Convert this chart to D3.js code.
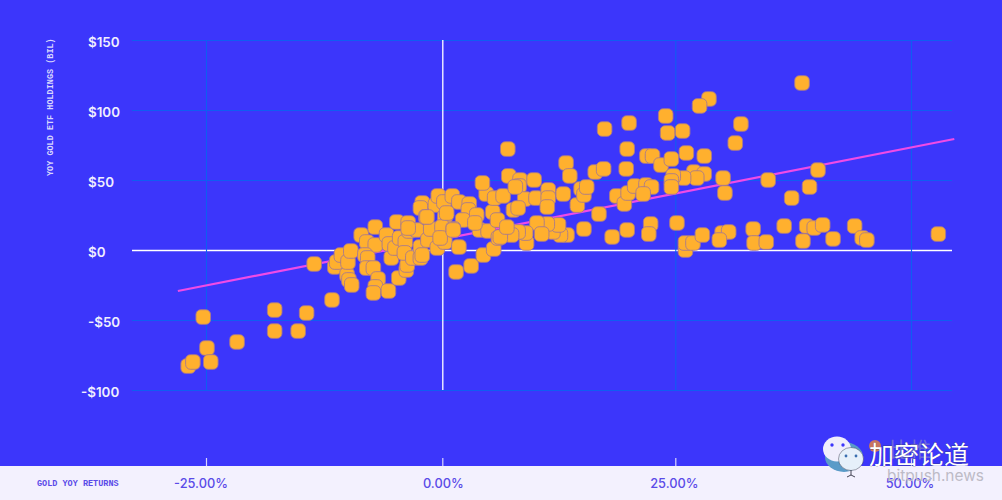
<!DOCTYPE html>
<html><head><meta charset="utf-8">
<script src="https://cdn.jsdelivr.net/npm/d3@7/dist/d3.min.js"></script>
<style>html,body{margin:0;padding:0;background:#3C36FB;overflow:hidden}svg{display:block}</style>
</head><body><svg id="c" width="1002" height="500"></svg>
<script>
const goldReturns=[-27,-26.5,-25,-24.6,-25.4,-21.8,-17.8,-17.8,-15.3,-14.4,-13.6,-11.7,-11.4,-11.2,-10.7,-10.1,-9.9,-9.6,-10,-9.7,-8.6,-8,-7.1,-7.1,-8.2,-7.9,-8,-7.3,-6.8,-7.1,-7.3,-5.7,-4.6,-3.8,-3.7,-5.4,-5.9,-5.6,-5,-4.8,-3.6,-4.5,-3.9,-4,-3.1,-2.3,-3.5,-2.7,-2.3,-1.5,-1.2,-2.1,-2.3,-1.7,-0.7,-0.4,0.2,1.1,1.8,2.9,2.8,2.2,3.7,0.3,0,1.2,-0.5,0.3,-0.2,1.8,1.5,3.1,4.4,5.5,4,4.9,5.4,4.7,4.3,6,5.9,7,7.1,17.3,19.9,13.2,13.6,16.3,17.2,19.6,19.7,5.6,6.5,8.3,8.2,9.8,8.8,10,11.3,11.3,11.2,12.9,14.4,14.8,15.1,15.4,16.7,18.6,19.4,19.8,15.1,18.1,19.7,13.3,12.6,11.8,12.4,11.2,10.1,10.6,9,8.9,8.1,7.4,6.2,6.9,7.6,8.1,7.8,38.3,28.4,27.4,23.8,31.8,24,25.6,31.2,21.8,22.4,23.3,24.4,26,27.9,26.8,27.9,27.1,25.7,24.6,24.4,24.4,29.9,30.1,34.7,40,39.1,37.2,20.5,21.7,22.3,21.4,22.2,22,25,25.9,25.9,26.7,27.7,29.8,30.5,29.5,33.1,33.2,34.5,36.4,38.4,38.8,39.6,40.5,41.6,43.9,44.7,45.2,52.8,-1.6,0.5,1.2,-3.6,-2.1,3.5];
const etfHoldings=[-82.9,-80,-70,-80,-47.9,-65.7,-42.9,-57.9,-57.9,-45,-10,-35.7,-12.1,-8.6,-3.6,-17.9,-21.4,-25,-8.6,-0.7,10.7,5.7,16.4,3.6,-3.6,-5.7,-12.9,-12.9,-20.7,-26.4,-30.7,-29.3,-20,-14.3,-10.7,-5.7,10.7,4.3,1.4,20,19.3,8.6,5.7,-2.1,-5.7,-5.7,13.6,14.3,2.1,7.1,15,33.6,30,23.6,32.1,38.6,34.3,38.6,34.3,32.9,28.6,21.4,25,23.6,16.4,15,1.4,5.7,8.6,2.1,-15.7,-11.4,-3.6,0.7,14.3,13.6,27.1,40,47.9,8.6,21.4,72.1,52.9,86.4,90.7,62.1,52.9,55.7,57.9,57.9,72.1,37.1,38.6,50,45.7,50,36.4,37.1,42.9,37.1,30.7,40,32.1,43.6,39.3,45,25.7,38.6,32.9,40.7,15,9.3,14.3,10.7,10.7,12.9,17.9,18.6,19.3,11.4,5,12.1,12.9,10.7,9.3,16.4,28.6,30,45,119.3,107.9,102.9,95.7,90,83.6,85,76.4,67.1,67.1,60.7,65,69.3,67.1,55.7,54.3,51.4,51.4,52.9,49.3,45,51.4,40.7,50,57.1,45,37.1,45.7,46.4,45,40,18.6,11.4,19.3,0,5,5,10.7,12.1,12.9,7.1,15,5,5.7,17.1,6.4,17.1,15.7,17.9,7.9,17.1,8.6,7.1,11.4,23.6,26.4,14.3,15.7,-3.6,19.3];
const trendX=[-28.1,54.5];
const trendY=[-29.3,79.3];
const xTicks=[-25,0,25,50];
const yTicks=[-100,-50,0,50,100,150];

const svg=d3.select("#c");
const x=d3.scaleLinear().domain([-25,0,25,50]).range([206,442.3,675.3,911]); // axis positions
const xp=d3.scaleLinear().domain([-25,50]).range([207,912]);                 // marks
const y=d3.scaleLinear().domain([-100,150]).range([390,40]);
const SANS="Inter, 'Noto Sans', sans-serif", MONO="'Liberation Mono','DejaVu Sans Mono',monospace";

svg.append("rect").attr("width",1002).attr("height",500).attr("fill","#3C36FB");
svg.append("rect").attr("y",466).attr("width",1002).attr("height",34).attr("fill","#F3F1FE");

const gy=svg.append("g").attr("transform","translate(132,0)")
  .call(d3.axisLeft(y).tickValues(yTicks).tickSize(-820).tickFormat(""));
gy.select(".domain").remove();
gy.selectAll("line").attr("stroke",d=>d===0?"#FFFFFF":"#0F5DF2").attr("stroke-width",d=>d===0?1.3:1.1);
const gx=svg.append("g").attr("transform","translate(0,390)")
  .call(d3.axisBottom(x).tickValues(xTicks).tickSize(-350).tickFormat(""));
gx.select(".domain").remove();
gx.selectAll("line").attr("stroke",d=>d===0?"#FFFFFF":"#0F5DF2").attr("stroke-width",d=>d===0?1.3:1.1);

yTicks.forEach(v=>{
  svg.append("text").attr("x",v===-100?81:88).attr("y",y(v)+6.5)
    .attr("font-family",SANS).attr("font-weight",600).attr("font-size",13.4)
    .attr("fill","#F0EEFE").text(v<0?"-$"+(-v):"$"+v);
});

const bx=svg.append("g").attr("transform","translate(0,466)")
  .call(d3.axisTop(x).tickValues(xTicks).tickSize(8).tickFormat(""));
bx.select(".domain").remove();
bx.selectAll("line").attr("stroke","#DAD6FD").attr("stroke-width",1.2);
const xLabelShift={"-25":-5,"0":1,"25":-1,"50":-1};
xTicks.forEach(v=>{
  svg.append("text").attr("x",x(v)+xLabelShift[v]).attr("y",488).attr("text-anchor","middle")
    .attr("font-family",SANS).attr("font-weight",500).attr("font-size",12.8)
    .attr("fill","#5A4BE8").text(v.toFixed(2)+"%");
});

svg.append("text").attr("transform","translate(53,176) rotate(-90)")
  .attr("font-family",MONO).attr("font-weight",700).attr("font-size",8.5).attr("fill","#D8D6FE")
  .text("YOY GOLD ETF HOLDINGS (BIL)");
svg.append("text").attr("x",37).attr("y",486)
  .attr("font-family",MONO).attr("font-weight",700).attr("font-size",8.5).attr("fill","#5A4BE8")
  .text("GOLD YOY RETURNS");

const line=d3.line().x(d=>xp(d[0])).y(d=>y(d[1]));
svg.append("path").attr("d",line(d3.zip(trendX,trendY))).attr("fill","none")
  .attr("stroke","#F04BE6").attr("stroke-width",2.2);

const S=14.6;
svg.append("g").selectAll("rect").data(d3.zip(goldReturns,etfHoldings)).join("rect")
  .attr("x",d=>xp(d[0])-S/2).attr("y",d=>y(d[1])-S/2)
  .attr("width",S).attr("height",S).attr("rx",4.8)
  .attr("fill","#FFB02E").attr("stroke","#A87A8C").attr("stroke-width",.9);

const wm=svg.append("g");
wm.append("text").attr("x",887).attr("y",481).attr("font-family",SANS).attr("font-size",15.4)
  .attr("fill","#BDBBC6").text("bitpush.news");
wm.append("text").attr("x",889).attr("y",457).attr("font-family","'Noto Sans CJK SC'").attr("font-size",21)
  .attr("fill","#6E6AD8").text("比推");
wm.append("circle").attr("cx",875).attr("cy",446).attr("r",6).attr("fill","#C8745F");
wm.append("ellipse").attr("cx",844).attr("cy",457).attr("rx",19).attr("ry",15).attr("fill","#5A9BC8");
wm.append("ellipse").attr("cx",837).attr("cy",449).attr("rx",14).attr("ry",12.5).attr("fill","#F0EEFC");
wm.append("circle").attr("cx",832).attr("cy",445).attr("r",1.7).attr("fill","#3C36FB");
wm.append("circle").attr("cx",843).attr("cy",445).attr("r",1.7).attr("fill","#3C36FB");
wm.append("ellipse").attr("cx",851).attr("cy",459).attr("rx",12.5).attr("ry",11.5).attr("fill","#E6F0FA").attr("stroke","#223").attr("stroke-width",.4);
wm.append("circle").attr("cx",846).attr("cy",456).attr("r",1.4).attr("fill","#3A6FB0");
wm.append("circle").attr("cx",856).attr("cy",456).attr("r",1.4).attr("fill","#3A6FB0");
wm.append("path").attr("d","M851 470 V475 M847 477 L851 475 L855 477").attr("stroke","#445").attr("fill","none");
wm.append("text").attr("x",869).attr("y",464).attr("font-family","'Noto Sans CJK SC'").attr("font-size",25)
  .attr("fill","#FFFFFF").attr("stroke","#333").attr("stroke-width",.3).attr("paint-order","stroke").text("加密论道");
</script></body></html>
